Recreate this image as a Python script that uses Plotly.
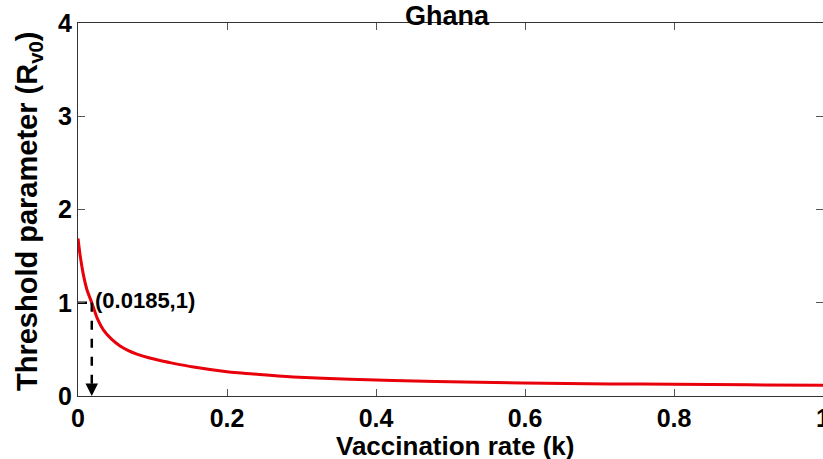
import plotly.graph_objects as go

# Data
k_vals = [0, 0.003, 0.007, 0.012, 0.0185, 0.026, 0.034, 0.045, 0.056, 0.067, 0.079, 0.095, 0.11, 0.125,
          0.155, 0.2, 0.244, 0.289, 0.365, 0.48, 0.597, 0.714, 0.8, 0.9, 1.0]
R_vals = [1.69, 1.50, 1.31, 1.14, 1.0, 0.83, 0.71, 0.61, 0.54, 0.49, 0.45, 0.41, 0.38, 0.355,
          0.31, 0.26, 0.23, 0.205, 0.18, 0.155, 0.14, 0.13, 0.125, 0.12, 0.115]
point_k = 0.0185
point_R = 1
point_label = "(0.0185,1)"
x_ticks = [0, 0.2, 0.4, 0.6, 0.8, 1]
x_tick_text = ["0", "0.2", "0.4", "0.6", "0.8", "1"]
y_ticks = [0, 1, 2, 3, 4]
y_tick_text = ["0", "1", "2", "3", "4"]
title_text = "Ghana"
x_title = "Vaccination rate (k)"
y_title = "Threshold parameter (R<sub>v0</sub>)"

FONT = "Liberation Sans, Arial, sans-serif"
L, R, T, B = 78, 0, 23, 63
W, H = 823, 459
PW, PH = W - L - R, H - T - B


def px_to_paper_x(px):
    return (px - L) / PW


def px_to_paper_y(py):
    return (H - B - py) / PH


fig = go.Figure()
fig.add_trace(go.Scatter(x=k_vals, y=R_vals, mode="lines",
                         line=dict(color="#e8000b", width=3, shape="spline", smoothing=0.6),
                         showlegend=False, hoverinfo="skip", cliponaxis=False))

# dashed guides
fig.add_trace(go.Scatter(x=[0, point_k], y=[point_R, point_R], mode="lines",
                         line=dict(color="black", width=2.5, dash="dash"),
                         showlegend=False, hoverinfo="skip"))
fig.add_trace(go.Scatter(x=[point_k, point_k], y=[point_R, 0.1], mode="lines",
                         line=dict(color="black", width=2.5, dash="dash"),
                         showlegend=False, hoverinfo="skip"))

fig.add_annotation(x=point_k, y=0, ax=point_k, ay=0.12, xref="x", yref="y",
                   axref="x", ayref="y", showarrow=True, arrowhead=2, arrowsize=1,
                   arrowwidth=2.5, arrowcolor="black", text="")
fig.add_annotation(x=point_k, y=point_R, xref="x", yref="y", text="<b>" + point_label + "</b>",
                   showarrow=False, xanchor="left", yanchor="bottom", xshift=1, yshift=-12,
                   font=dict(family=FONT, size=22, color="black"))

# axis titles as annotations for precise placement
fig.add_annotation(x=px_to_paper_x(455), y=px_to_paper_y(430), xref="paper", yref="paper",
                   text="<b>" + x_title + "</b>", showarrow=False, xanchor="center", yanchor="top",
                   borderpad=0, font=dict(family=FONT, size=26, color="black"))
fig.add_annotation(x=px_to_paper_x(29), y=px_to_paper_y(212), xref="paper", yref="paper",
                   text="<b>" + y_title + "</b>", showarrow=False, textangle=-90,
                   xanchor="center", yanchor="middle", borderpad=0,
                   font=dict(family=FONT, size=29, color="black"))
fig.add_annotation(x=px_to_paper_x(447), y=px_to_paper_y(16), xref="paper", yref="paper",
                   text="<b>" + title_text + "</b>", showarrow=False, xanchor="center",
                   yanchor="middle", borderpad=0, font=dict(family=FONT, size=27, color="black"))

axis_common = dict(showgrid=False, zeroline=False, showline=True, linecolor="#333333",
                   linewidth=1, mirror="allticks", ticks="inside", ticklen=7,
                   tickcolor="#555555", tickwidth=1, automargin=False,
                   tickfont=dict(family=FONT, size=25, color="black"))

fig.update_xaxes(range=[0, 1], tickvals=x_ticks, ticktext=["<b>%s</b>" % t for t in x_tick_text],
                 ticklabeloverflow="allow", **axis_common)
fig.update_yaxes(range=[0, 4], tickvals=y_ticks, ticktext=["<b>%s</b>" % t for t in y_tick_text],
                 **axis_common)

fig.update_layout(
    width=W, height=H,
    margin=dict(l=L, r=R, t=T, b=B, autoexpand=False),
    plot_bgcolor="white", paper_bgcolor="white",
)

fig.write_html("out.html")
